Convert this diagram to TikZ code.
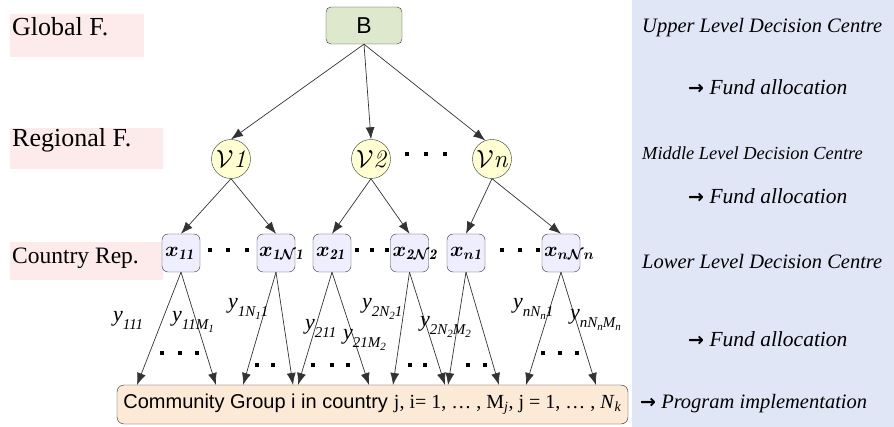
\documentclass[tikz,border=0pt]{standalone}
\usepackage{graphicx}
\usepackage{fontspec}
\newfontfamily\serifL{Liberation Serif}
\newfontfamily\sansL{Liberation Sans}
\newfontfamily\dejaB{DejaVu Sans Bold}
\usetikzlibrary{arrows.meta}
\definecolor{pinkbg}{HTML}{FDEAEA}
\definecolor{panelbg}{HTML}{E0E6F6}
\definecolor{bgreen}{HTML}{DDE8CC}
\definecolor{vyellow}{HTML}{FFFFD2}
\definecolor{xlav}{HTML}{EEEEFF}
\definecolor{cgpeach}{HTML}{FCEAD7}
\definecolor{edgecol}{HTML}{333333}
\tikzset{
  edge/.style={draw=edgecol, line width=0.7pt, -{Latex[length=12pt,width=9pt]}},
  bnode/.style={draw=black!80, fill=bgreen, rounded corners=5pt, minimum width=76pt, minimum height=37pt, inner sep=0pt, font=\sansL\fontsize{23}{23}\selectfont},
  vnode/.style={circle, draw=black!80, fill=vyellow, minimum size=39pt, inner sep=0pt, font=\fontsize{21}{21}\selectfont},
  xnode/.style={draw=black!80, fill=xlav, rounded corners=6pt, minimum size=38pt, inner sep=0pt, font=\fontsize{21}{21}\selectfont\boldmath},
  cgnode/.style={draw=black!85, fill=cgpeach, rounded corners=7pt, minimum width=511pt, minimum height=39pt, inner sep=0pt, font=\fontsize{20}{20}\selectfont},
  pinkbox/.style={fill=pinkbg, draw=none},
  lvltext/.style={anchor=base west, inner sep=0pt, font=\serifL\fontsize{26}{26}\selectfont},
  rtext/.style={anchor=base west, inner sep=0pt, font=\serifL\itshape\fontsize{20.5}{24}\selectfont},
  ylab/.style={anchor=base west, inner sep=0pt, font=\serifL\itshape\fontsize{22}{24}\selectfont},
  dotm/.style={fill=black, draw=none}
}
\newcommand{\rarr}{{\dejaB\fontsize{19}{19}\selectfont →}}
\newcommand{\ysub}[1]{\raisebox{-8pt}{\fontsize{15}{15}\selectfont #1}}
\newcommand{\yssub}[1]{\raisebox{-3pt}{\fontsize{11}{11}\selectfont #1}}
\begin{document}
\begin{tikzpicture}[x=1pt,y=-1pt]
\useasboundingbox (0,0) rectangle (894,427);
% right panel
\fill[panelbg] (632,0) rectangle (894,427);
% pink level boxes
\fill[pinkbox] (10,14) rectangle (144,57);
\fill[pinkbox] (10,128) rectangle (163,169);
\fill[pinkbox] (10,242) rectangle (163,280);
\node[lvltext] (lg) at (12,35.5) {Global F.};
\node[lvltext] (lr) at (12,147) {Regional F.};
\node[lvltext, font=\serifL\fontsize{23.5}{24}\selectfont] (lc) at (12,263.5) {Country Rep.};
% right texts
\node[rtext] (r1) at (642,33) {Upper Level Decision Centre};
\node[rtext, font=\serifL\itshape\fontsize{21.5}{24}\selectfont] (r2) at (688,95) {\rarr\ Fund allocation};
\node[rtext, font=\serifL\itshape\fontsize{18.4}{22}\selectfont] (r3) at (642,160) {Middle Level Decision Centre};
\node[rtext, font=\serifL\itshape\fontsize{21.5}{24}\selectfont] (r4) at (688,204) {\rarr\ Fund allocation};
\node[rtext] (r5) at (642,269) {Lower Level Decision Centre};
\node[rtext, font=\serifL\itshape\fontsize{21.5}{24}\selectfont] (r6) at (688,347) {\rarr\ Fund allocation};
\node[rtext] (r7) at (640,408) {\rarr\ Program implementation};
% nodes
\node[bnode] (B) at (364,25.5) {B};
\node[vnode] (V1) at (231,159) {\scalebox{1.2}{$\mathcal{V}\mathit{1}$}};
\node[vnode] (V2) at (371,159) {\scalebox{1.2}{$\mathcal{V}\mathit{2}$}};
\node[vnode] (Vn) at (492,159) {\scalebox{1.2}{$\mathcal{V}\mathit{n}$}};
\node[xnode] (x11) at (181,253) {\makebox[32pt][l]{$x_{\mathit{11}}$}};
\node[xnode] (x1N) at (276,253) {\makebox[34pt][l]{$x_{\mathit{1}\mathcal{N}\mathit{1}}$}};
\node[xnode] (x21) at (332,253) {\makebox[32pt][l]{$x_{\mathit{21}}$}};
\node[xnode] (x2N) at (409.5,253) {\makebox[34pt][l]{$x_{\mathit{2}\mathcal{N}\mathit{2}}$}};
\node[xnode] (xn1) at (466,253) {\makebox[32pt][l]{$x_{n\mathit{1}}$}};
\node[xnode] (xnN) at (561,253) {\makebox[34pt][l]{$x_{n\mathcal{N}n}$}};
\node[cgnode] (cg) at (372.5,404.5) {{\sansL Community Group i in country} {\serifL j, i= 1, … , M\textsubscript{\textit{j}}, j = 1, … , \textit{N}\textsubscript{\textit{k}}}};
% B -> V
\draw[edge] (B.south) -- (V1.north);
\draw[edge] (B.south) -- (V2.north);
\draw[edge] (B.south) -- (Vn.110);
% V -> x
\draw[edge] (V1.south) -- (x11.north);
\draw[edge] (V1.south) -- (x1N.north);
\draw[edge] (V2.south) -- (x21.north);
\draw[edge] (V2.south) -- (x2N.north);
\draw[edge] (Vn.south) -- (xn1.north);
\draw[edge] (Vn.south) -- (xnN.north);
% targets on the community box
\coordinate (t1) at (137,385);
\coordinate (t2) at (216,385);
\coordinate (t3) at (243,385);
\coordinate (t4) at (293,385);
\coordinate (t5) at (298,385);
\coordinate (t6) at (369,385);
\coordinate (t7) at (393,385);
\coordinate (t8) at (445,385);
\coordinate (t9) at (448,385);
\coordinate (t10) at (499,385);
\coordinate (t11) at (526,385);
\coordinate (t12) at (596,385);
\draw[edge] (x11.south) -- (t1);
\draw[edge] (x11.south) -- (t2);
\draw[edge] (x1N.south) -- (t3);
\draw[edge] (x1N.south) -- (t4);
\draw[edge] (x21.south) -- (t5);
\draw[edge] (x21.south) -- (t6);
\draw[edge] (x2N.south) -- (t7);
\draw[edge] (x2N.south) -- (t8);
\draw[edge] (xn1.south) -- (t9);
\draw[edge] (xn1.south) -- (t10);
\draw[edge] (xnN.south) -- (t11);
\draw[edge] (xnN.south) -- (t12);
% y labels
\node[ylab] (y1) at (113,322) {y\ysub{111}};
\node[ylab] (y2) at (172,322) {y\ysub{11M\yssub{1}}};
\node[ylab] (y3) at (228,309) {y\ysub{1N\yssub{1}1}};
\node[ylab] (y4) at (305,330) {y\ysub{211}};
\node[ylab] (y5) at (343,340) {y\ysub{21M\yssub{2}}};
\node[ylab] (y6) at (362,309) {y\ysub{2N\yssub{2}1}};
\node[ylab] (y7) at (420,327) {y\ysub{2N\yssub{2}M\yssub{2}}};
\node[ylab] (y8) at (513,309) {y\ysub{nN\yssub{n}1}};
\node[ylab] (y9) at (570,320) {y\ysub{nN\yssub{n}M\yssub{n}}};
% dots
\foreach \px/\py in {407/154,426/154,445/154,
                     210/250,228/250,247/250,
                     357/250,372/250,387/250,
                     502/250,520/250,538/250,
                     162/353,180/353,197/353,
                     257/365,273/365,313/365,332/365,348/365,
                     410/365,425/365,468/365,485/365,
                     543/353,560/353,577/353}
  \fill[dotm] (\px-1.8,\py-1.8) rectangle (\px+1.8,\py+1.8);
\end{tikzpicture}
\end{document}
